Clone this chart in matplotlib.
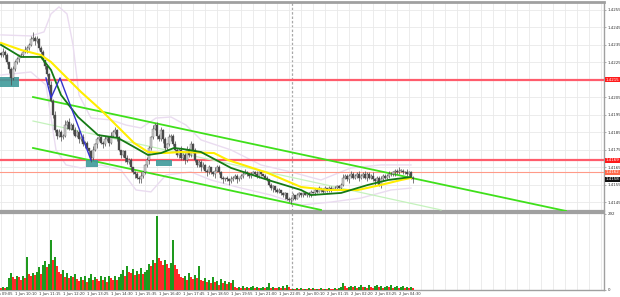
import numpy as np
import matplotlib
matplotlib.use("Agg")
import matplotlib.pyplot as plt
from matplotlib.patches import Rectangle

# prices are kept as pips above BASE
BASE = 1.4140
PIP = 0.0001

first_open = 90
close_pips = [89, 91, 89, 85, 81, 76, 81, 85, 87, 89, 89, 91, 92, 93, 95, 98, 99, 97, 98, 93,
              91, 86, 83, 78, 72, 63, 55, 46, 43, 45, 42, 43, 49, 51, 47, 49, 46, 43, 45, 41,
              42, 38, 39, 36, 34, 30, 35, 38, 41, 42, 39, 38, 41, 42, 39, 43, 45, 46, 42, 35,
              32, 34, 30, 28, 29, 25, 22, 21, 19, 18, 20, 22, 26, 29, 36, 42, 47, 49, 43, 41,
              46, 41, 36, 38, 42, 43, 38, 35, 32, 35, 30, 32, 29, 35, 32, 38, 35, 29, 26, 28,
              25, 26, 23, 22, 25, 22, 21, 23, 25, 22, 19, 18, 19, 18, 17, 18, 19, 20, 18, 19,
              20, 21, 22, 21, 20, 21, 22, 21, 20, 22, 21, 20, 19, 18, 15, 13, 14, 12, 11, 12,
              10, 9, 10, 7, 6, 7, 9, 7, 9, 10, 9, 10, 9, 10, 9, 11, 10, 12, 11, 13,
              12, 11, 13, 12, 13, 12, 13, 13, 14, 13, 15, 19, 20, 18, 20, 21, 19, 20, 21, 19,
              20, 21, 19, 21, 19, 20, 18, 17, 19, 15, 18, 20, 19, 20, 21, 21, 22, 23, 22, 23,
              23, 22, 22, 21, 22, 19, 18]

up_wick = [1, 2, 1, 1, 0, 1, 2, 1, 1, 0, 1, 1, 2, 1, 1, 2, 3, 1, 2, 1,
           1, 1, 0, 1, 1, 2, 1, 2, 1, 2, 1, 1, 3, 1, 2, 1, 1, 2, 1, 1,
           1, 2, 1, 1, 0, 1, 2, 1, 1, 2, 1, 1, 2, 1, 1, 2, 1, 2, 1, 1,
           0, 1, 1, 2, 1, 1, 0, 1, 1, 1, 2, 1, 1, 2, 1, 1, 2, 1, 2, 1,
           2, 1, 1, 1, 2, 1, 1, 2, 1, 1, 2, 1, 1, 2, 1, 2, 1, 1, 0, 1,
           1, 2, 1, 1, 1, 0, 1, 2, 1, 1, 1, 1, 0, 1, 1, 2, 1, 1, 1, 0,
           1, 1, 2, 1, 0, 1, 1, 1, 2, 1, 1, 0, 1, 1, 0, 1, 1, 0, 1, 1,
           0, 1, 1, 0, 1, 1, 1, 0, 1, 1, 0, 1, 1, 0, 1, 1, 0, 1, 1, 1,
           0, 1, 1, 0, 1, 1, 0, 1, 1, 1, 1, 2, 1, 1, 1, 2, 1, 1, 1, 2,
           1, 1, 2, 1, 1, 1, 2, 1, 1, 1, 2, 1, 1, 1, 2, 1, 1, 1, 1, 2,
           1, 1, 1, 2, 1, 1, 1]

dn_wick = [1, 1, 2, 1, 2, 4, 1, 1, 1, 2, 1, 1, 1, 2, 1, 1, 1, 2, 1, 1,
           2, 1, 2, 1, 2, 1, 2, 1, 2, 1, 2, 1, 1, 2, 1, 1, 2, 1, 1, 2,
           1, 1, 2, 1, 2, 2, 1, 1, 2, 1, 1, 2, 1, 1, 2, 1, 1, 1, 2, 1,
           2, 1, 2, 1, 1, 2, 1, 2, 1, 2, 2, 1, 1, 1, 2, 1, 1, 1, 2, 1,
           1, 2, 1, 1, 1, 2, 1, 1, 1, 2, 1, 1, 2, 1, 1, 1, 2, 1, 1, 1,
           2, 1, 1, 2, 1, 1, 1, 2, 1, 1, 1, 2, 1, 1, 2, 1, 1, 1, 2, 1,
           1, 1, 0, 1, 1, 1, 0, 1, 1, 1, 1, 0, 1, 1, 1, 1, 2, 1, 1, 1,
           1, 1, 2, 1, 1, 2, 1, 1, 0, 1, 1, 1, 0, 1, 1, 1, 0, 1, 1, 0,
           1, 1, 0, 1, 1, 1, 0, 1, 1, 0, 1, 1, 1, 1, 2, 1, 1, 1, 1, 2,
           1, 1, 1, 2, 1, 1, 1, 2, 1, 1, 2, 1, 1, 1, 1, 1, 1, 2, 1, 1,
           1, 1, 1, 1, 1, 1, 2]

volume = [8, 12, 6, 10, 45, 64, 50, 42, 55, 48, 40, 52, 45, 125,
          60, 55, 65, 58, 70, 87, 62,
          95, 110, 88, 100, 190, 114, 125, 90,
          70, 60, 75, 50, 64, 45, 55, 48, 60, 42,
          35, 50, 40, 55, 30, 45, 60, 38, 50, 42, 35, 55, 40, 48, 30, 52, 45, 38, 55, 40, 50,
          60, 75, 55, 90, 70, 65, 80, 58, 72, 62, 85, 60, 70, 78,
          100, 90, 115, 105, 284, 121, 110, 95, 115, 100, 85, 105, 190, 95, 80,
          60, 50, 45, 55, 38, 65, 50, 42, 58, 45, 90, 40,
          35, 45, 30, 40, 25, 50, 30, 35, 20, 42, 28, 35, 22, 30, 25, 40,
          12, 8, 10, 6, 14, 9, 12, 7, 10, 15, 8, 11, 6, 9, 13, 8, 10, 27, 7, 12, 9, 6, 10, 8, 14, 9, 18, 10,
          3, 5, 4, 6, 3, 8, 4, 5, 3, 6, 4, 7, 3, 5, 4, 6, 3, 5, 4, 6, 5, 4, 6, 5, 8,
          10, 26, 15, 8, 12, 16, 10, 14, 9, 12, 18, 10, 13, 8, 20, 12, 9, 15, 20, 11, 16, 8, 12, 14, 10, 18,
          9, 12, 15, 8, 11, 14, 6, 10, 8, 12, 9]

# moving averages (bar index, pips)
ma_green_bar = [0, 10, 20, 25, 30, 38.5, 48.5, 58.5, 66.5, 73.5, 80, 86.5, 91, 100, 115, 133.5, 150, 155, 170, 183.5, 193.5, 205]
ma_green_pip = [94.9, 88.0, 88.0, 80.6, 66.3, 53.7, 43.4, 41.7, 36.6, 32.0, 33.1, 36.0, 35.4, 33.7, 24.6, 17.7, 12.0, 9.1, 10.3, 14.9, 17.7, 19.4]
ma_yellow_bar = [0, 10, 20, 25, 30, 40, 50, 58.5, 66.5, 73.5, 81.5, 90, 106.5, 113.5, 133.5, 150, 163.5, 178.5, 190, 200, 205]
ma_yellow_pip = [96.0, 92.0, 89.1, 85.1, 79.4, 68.0, 57.7, 48.0, 38.9, 33.7, 33.1, 33.7, 33.1, 29.1, 21.7, 13.7, 12.0, 12.0, 14.9, 17.7, 18.9]

# envelope bands
band_up_bar = [0, 15, 21.5, 25, 29, 33, 36, 39, 45, 55, 62.5, 70, 77.5, 85, 92.5, 100, 115, 130, 145, 160, 175, 190, 205]
band_up_pip = [100.6, 100.0, 102.3, 112.6, 116.6, 112.6, 94.9, 66.3, 53.1, 52.0, 49.1, 47.4, 53.1, 53.7, 49.1, 40.6, 34.9, 26.3, 22.3, 17.7, 24.6, 26.3, 26.3]
band_dn_bar = [0, 15, 22.5, 27.5, 32.5, 40, 50, 60, 67.5, 75, 82.5, 95, 105, 120, 135, 150, 165, 180, 195, 205]
band_dn_pip = [77.7, 79.4, 72.0, 34.9, 26.3, 24.6, 26.3, 23.4, 12.0, 10.9, 20.6, 22.3, 17.7, 13.1, 9.1, 3.4, 5.1, 7.4, 12.0, 13.1]

# drawn objects
zigzag_bar = [22.5, 25, 29.5, 45]
zigzag_pip = [76.0, 64.6, 76.0, 29.1]
trend_upper = ([16, 282.5], [65.1, 0.0])
trend_lower = ([16, 160], [36.0, 0.6])
trend_faint = ([16, 220], [51.4, 0.6])
boxes = [(-0.5, 9.0, 70.9, 76.6), (42.5, 48.5, 25.1, 29.1), (77.5, 85.5, 25.7, 29.1)]

levels = [1.4215, 1.4169, 1.4162]
level_colors = ["#ff5c6c", "#ff5c6c", "#ff9a88"]
level_widths = [1.6, 1.6, 0.8]
label_colors = ["#ff1a1a", "#ff1a1a", "#ff6a4a"]

price_ticks = [1.4255, 1.4245, 1.4235, 1.4225, 1.4215, 1.4205, 1.4195, 1.4185, 1.4175, 1.4165, 1.4155, 1.4145]

time_bars = [-6, 6, 18, 30, 42, 54, 66, 78, 90, 102, 114, 126, 138, 150, 162, 174, 186, 198]
time_labels = ["1 Jun 09:05", "1 Jun 10:10", "1 Jun 11:15", "1 Jun 12:20", "1 Jun 13:25", "1 Jun 14:30",
               "1 Jun 15:35", "1 Jun 16:40", "1 Jun 17:45", "1 Jun 18:50", "1 Jun 19:55", "1 Jun 21:00",
               "1 Jun 22:05", "2 Jun 00:10", "2 Jun 01:15", "2 Jun 02:20", "2 Jun 03:25", "2 Jun 04:30"]
day_break = 145.5


def px(p):
    return BASE + np.asarray(p, dtype=float) * PIP


n = min(len(close_pips), len(up_wick), len(dn_wick), len(volume))
idx = np.arange(n)
c = px(close_pips[:n])
o = np.r_[px(first_open), c[:-1]]
hi = np.maximum(o, c) + np.array(up_wick[:n]) * PIP
lo = np.minimum(o, c) - np.array(dn_wick[:n]) * PIP
vol = np.array(volume[:n])

fig = plt.figure(figsize=(6.2, 2.97), dpi=100)
ax = fig.add_axes([0, 0.2896, 0.9742, 0.7037])
axv = fig.add_axes([0, 0.0236, 0.9742, 0.2593])

XMAX = 301.5
for a in (ax, axv):
    a.set_xlim(-0.5, XMAX)
    a.set_xticks(np.arange(0, 302, 6))
    a.tick_params(axis="x", length=0, labelbottom=False)
    a.grid(True, axis="x", color="#e9e9e9", lw=0.6)
    a.axvline(day_break, color="#a8a8a8", lw=0.9, ls=(0, (2, 1.5)), zorder=1)
    a.spines["left"].set_visible(False)
    for s in ("top", "bottom", "right"):
        a.spines[s].set_color("#a0a0a0")
    a.yaxis.tick_right()
    a.tick_params(axis="y", length=1.5, width=0.5, color="#909090", labelsize=2.9, labelcolor="#333333", pad=1)

ax.spines["top"].set_linewidth(2)
ax.spines["bottom"].set_linewidth(1.6)
ax.spines["right"].set_linewidth(1)
axv.spines["top"].set_linewidth(1.6)
axv.spines["bottom"].set_linewidth(1)
axv.spines["right"].set_linewidth(1)

# price panel; the tick under a level label keeps its grid line only
ax.set_ylim(BASE, px(119.4))
ax.set_yticks(price_ticks)
ax.set_yticklabels(["" if any(abs(t - lv) < 0.00005 for lv in levels) else "%.4f" % t for t in price_ticks])
ax.grid(True, axis="y", color="#e9e9e9", lw=0.6)

ax.plot(band_up_bar, px(band_up_pip), color="#eadcf0", lw=1.0, zorder=2)
ax.plot(band_dn_bar, px(band_dn_pip), color="#eadcf0", lw=1.0, zorder=2)

for lv, col, lw in zip(levels, level_colors, level_widths):
    ax.axhline(lv, color=col, lw=lw, zorder=3)

ax.plot(trend_faint[0], px(trend_faint[1]), color="#c4f2bc", lw=0.9, zorder=3)
ax.plot(trend_upper[0], px(trend_upper[1]), color="#3fe01a", lw=1.3, zorder=3)
ax.plot(trend_lower[0], px(trend_lower[1]), color="#3fe01a", lw=1.3, zorder=3)

for x0, x1, p0, p1 in boxes:
    ax.add_patch(Rectangle((x0, px(p0)), x1 - x0, (p1 - p0) * PIP,
                           facecolor="#3f9a9a", edgecolor="none", alpha=0.9, zorder=4))

ax.vlines(idx, lo, hi, color="#4a4a4a", lw=0.5, zorder=5)
body_h = np.maximum(np.abs(c - o), 0.25 * PIP)
body_col = np.where(c >= o, "#d0d0d0", "#4a4a4a")
ax.bar(idx, body_h, bottom=np.minimum(o, c), width=0.75, color=body_col,
       edgecolor="#4a4a4a", linewidth=0.25, zorder=6)

ax.plot(ma_yellow_bar, px(ma_yellow_pip), color="#ffee00", lw=1.5, zorder=7)
ax.plot(ma_green_bar, px(ma_green_pip), color="#157a15", lw=1.3, zorder=8)
ax.plot(zigzag_bar, px(zigzag_pip), color="#3333cc", lw=1.0, zorder=8)

tr = ax.get_yaxis_transform()
for lv, col in zip(levels, label_colors):
    ax.text(1.003, lv, "%.4f" % lv, transform=tr, fontsize=2.9, color="white", va="center", ha="left",
            bbox=dict(boxstyle="square,pad=0.15", fc=col, ec="none"), clip_on=False, zorder=10)
ax.text(1.003, c[-1], "%.4f" % c[-1], transform=tr, fontsize=2.9, color="white", va="center", ha="left",
        bbox=dict(boxstyle="square,pad=0.15", fc="#111111", ec="none"), clip_on=False, zorder=10)

# volume panel
vcol = ["#1e9a1e" if i > 0 and vol[i] > vol[i - 1] else "#ff2a2a" for i in range(n)]
axv.bar(idx, vol, width=0.8, color=vcol, zorder=3)
axv.set_ylim(0, 295)
axv.set_yticks([0, 292])
axv.set_yticklabels(["0", "292"])
axv.grid(False, axis="y")

xt = axv.get_xaxis_transform()
for b, lab in zip(time_bars, time_labels):
    axv.text(b + 0.8, -0.03, lab, transform=xt, fontsize=2.7, color="#333333",
             ha="left", va="top", clip_on=False)

fig.savefig("out.png", dpi=100, facecolor="white")
